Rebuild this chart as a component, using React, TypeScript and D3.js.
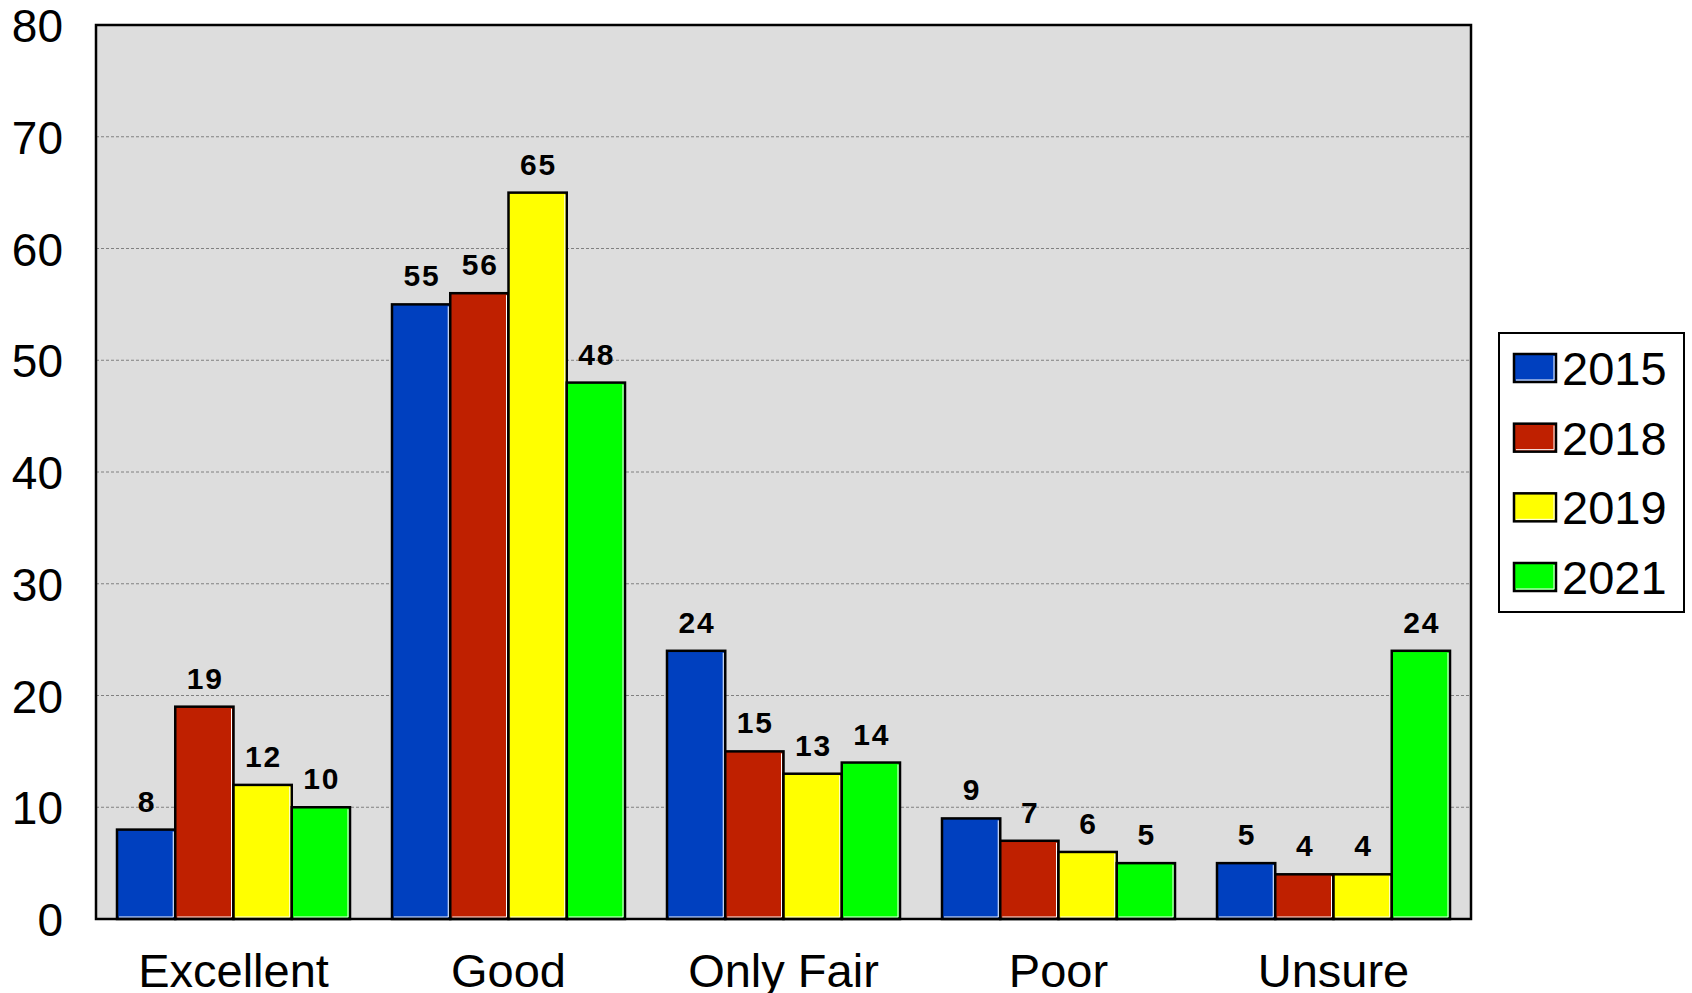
import React from "react";
import * as d3 from "d3";

const categories = ["Excellent", "Good", "Only Fair", "Poor", "Unsure"];
const years = ["2015", "2018", "2019", "2021"];
const values2015 = [8, 55, 24, 9, 5];
const values2018 = [19, 56, 15, 7, 4];
const values2019 = [12, 65, 13, 6, 4];
const values2021 = [10, 48, 14, 5, 24];
const yTicks = [0, 10, 20, 30, 40, 50, 60, 70, 80];
const colors = ["#0040BF", "#BF2000", "#FFFF00", "#00FF00"];

const seriesValues = [values2015, values2018, values2019, values2021];

const W = 1692;
const H = 993;
const plot = { left: 96, top: 25, right: 1471, bottom: 919 };
const FONT = "'Liberation Sans', Arial, Helvetica, sans-serif";

export default function App() {
  const x = d3
    .scaleBand<string>()
    .domain(categories)
    .range([plot.left, plot.right])
    .paddingInner(0)
    .paddingOuter(0);
  const groupW = 233;
  const xs = d3
    .scaleBand<string>()
    .domain(years)
    .range([0, groupW])
    .padding(0);
  const y = d3.scaleLinear().domain([0, 80]).range([plot.bottom, plot.top]);

  const legendX = 1499;
  const legendY = 333;
  const legendW = 185;
  const legendH = 279;
  const rowY = d3.scalePoint<string>().domain(years).range([368, 577]);

  return (
    <svg
      width={W}
      height={H}
      style={{ position: "absolute", left: 0, top: 0, display: "block" }}
      fontFamily={FONT}
    >
      <rect x={0} y={0} width={W} height={H} fill="#ffffff" />
      <rect
        x={plot.left}
        y={plot.top}
        width={plot.right - plot.left}
        height={plot.bottom - plot.top}
        fill="#DDDDDD"
      />
      {yTicks
        .filter((t) => t > 0 && t < 80)
        .map((t) => (
          <line
            key={"g" + t}
            x1={plot.left}
            x2={plot.right}
            y1={y(t)}
            y2={y(t)}
            stroke="#808080"
            strokeWidth={1}
            strokeDasharray="3,2"
          />
        ))}
      {categories.map((c, ci) => {
        const gx = (x(c) as number) + (x.bandwidth() - groupW) / 2;
        return (
          <g key={c}>
            {years.map((yr, si) => {
              const v = seriesValues[si][ci];
              const bx = gx + (xs(yr) as number);
              const bw = xs.bandwidth();
              const by = y(v);
              const bh = y(0) - by;
              return (
                <g key={yr}>
                  <rect
                    x={bx}
                    y={by}
                    width={bw}
                    height={bh}
                    fill={colors[si]}
                    stroke="#000"
                    strokeWidth={2.5}
                  />
                  <polyline
                    points={`${bx + 2},${by + bh - 2} ${bx + bw - 2},${by + bh - 2} ${bx + bw - 2},${by + 2}`}
                    fill="none"
                    stroke="#fff"
                    strokeWidth={1}
                  />
                  <text
                    x={bx + bw / 2 + 1}
                    y={by - 18}
                    textAnchor="middle"
                    fontSize={30}
                    fontWeight="bold"
                    letterSpacing={2}
                    fill="#000"
                  >
                    {v}
                  </text>
                </g>
              );
            })}
            <text
              x={(x(c) as number) + x.bandwidth() / 2}
              y={987}
              textAnchor="middle"
              fontSize={47}
              fill="#000"
            >
              {c}
            </text>
          </g>
        );
      })}
      <rect
        x={plot.left}
        y={plot.top}
        width={plot.right - plot.left}
        height={plot.bottom - plot.top}
        fill="none"
        stroke="#000"
        strokeWidth={2.5}
      />
      {yTicks.map((t) => (
        <text
          key={"t" + t}
          x={63}
          y={y(t) + 17}
          textAnchor="end"
          fontSize={46}
          fill="#000"
        >
          {t}
        </text>
      ))}
      <rect
        x={legendX}
        y={legendY}
        width={legendW}
        height={legendH}
        fill="#fff"
        stroke="#000"
        strokeWidth={2}
      />
      {years.map((yr, si) => {
        const cy = rowY(yr) as number;
        return (
          <g key={"l" + yr}>
            <rect
              x={1514}
              y={cy - 14}
              width={42}
              height={28}
              fill={colors[si]}
              stroke="#000"
              strokeWidth={2.5}
            />
            <polyline
              points={`${1516},${cy + 12} ${1554},${cy + 12} ${1554},${cy - 12}`}
              fill="none"
              stroke="#fff"
              strokeWidth={1}
            />
            <text x={1562} y={cy + 17} fontSize={47} fill="#000">
              {yr}
            </text>
          </g>
        );
      })}
    </svg>
  );
}
